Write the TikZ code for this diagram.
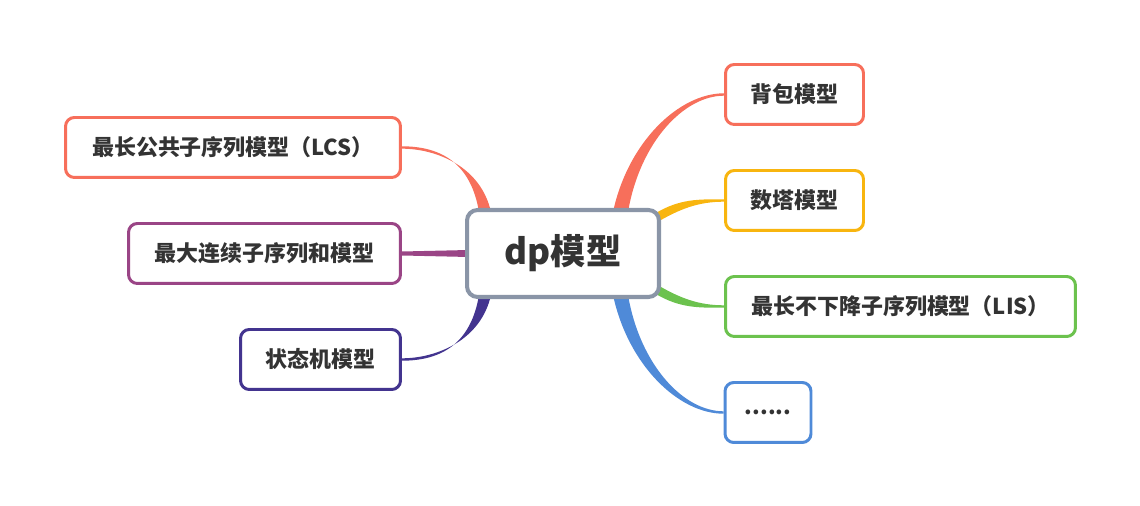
\documentclass[tikz,border=0pt]{standalone}
\usepackage{fontspec}
\setmainfont{Noto Sans CJK SC}
\usetikzlibrary{calc,backgrounds}
\definecolor{cred}{HTML}{F76F5B}
\definecolor{corange}{HTML}{F8B50F}
\definecolor{cgreen}{HTML}{6CC24E}
\definecolor{cblue}{HTML}{4F8AD8}
\definecolor{cpurple}{HTML}{9A4586}
\definecolor{cindigo}{HTML}{43348F}
\definecolor{cgray}{HTML}{8A95A7}
\definecolor{ctext}{HTML}{333333}
\tikzset{
  leaf/.style={draw,fill=white,line width=1.7pt,rounded corners=5pt,
    minimum height=1.2cm,text=ctext,font=\fontsize{12.5}{15}\selectfont\bfseries},
  root/.style={draw=cgray,fill=white,line width=2.3pt,rounded corners=6pt,
    minimum width=3.84cm,minimum height=1.74cm,text=ctext,
    font=\fontsize{20}{24}\selectfont\bfseries}
}
\begin{document}
\begin{tikzpicture}[x=0.02cm,y=-0.02cm]
    \useasboundingbox (0,0) rectangle (1140,506);
    % centre
    \node[root] (dp) at (563,253.5) {dp模型};
    % right side
    \node[leaf,draw=cred,minimum width=2.76cm] (bb) at (794.5,94.5) {背包模型};
    \node[leaf,draw=corange,minimum width=2.76cm] (st) at (794.5,200.5) {数塔模型};
    \node[leaf,draw=cgreen,minimum width=7cm] (lis) at (900.5,306.5) {最长不下降子序列模型（LIS）};
    \node[leaf,draw=cblue,minimum width=1.72cm] (etc) at (768,412.5) {......};
    % left side
    \node[leaf,draw=cred,minimum width=6.7cm] (lcs) at (233,147.5) {最长公共子序列模型（LCS）};
    \node[leaf,draw=cpurple,minimum width=5.44cm] (sum) at (264.5,253.5) {最大连续子序列和模型};
    \node[leaf,draw=cindigo,minimum width=3.2cm] (fsm) at (320.5,359.5) {状态机模型};
    % tapered branches
    \begin{scope}[on background layer]
        \fill[cred] ($(dp.north)+(50,4)$) .. controls +(15,-70) and +(-45,0) .. ($(bb.west)+(0,-1.2)$)
            -- ($(bb.west)+(0,1.2)$) .. controls +(-40,0) and +(12,-70) .. ($(dp.north)+(65,4)$) -- cycle;
        \fill[corange] ($(dp.east)+(-6,-40)$) .. controls +(25,-15) and +(-25,0) .. ($(st.west)+(0,-1.2)$)
            -- ($(st.west)+(0,1.2)$) .. controls +(-25,0) and +(25,-15) .. ($(dp.east)+(-6,-30)$) -- cycle;
        \fill[cgreen] ($(dp.east)+(-6,30)$) .. controls +(25,15) and +(-25,0) .. ($(lis.west)+(0,-1.2)$)
            -- ($(lis.west)+(0,1.2)$) .. controls +(-25,0) and +(25,15) .. ($(dp.east)+(-6,40)$) -- cycle;
        \fill[cblue] ($(dp.south)+(50,-4)$) .. controls +(15,70) and +(-45,0) .. ($(etc.west)+(0,1.2)$)
            -- ($(etc.west)+(0,-1.2)$) .. controls +(-40,0) and +(12,70) .. ($(dp.south)+(65,-4)$) -- cycle;
        \fill[cred] ($(dp.north)+(-72,4)$) .. controls +(-10,-45) and +(35,0) .. ($(lcs.east)+(0,1.2)$)
            -- ($(lcs.east)+(0,-1.2)$) .. controls +(40,0) and +(-8,-48) .. ($(dp.north)+(-84,4)$) -- cycle;
        \fill[cpurple] ($(dp.west)+(4,-3.5)$) -- ($(sum.east)+(0,-2)$) -- ($(sum.east)+(0,2)$)
            -- ($(dp.west)+(4,3.5)$) -- cycle;
        \fill[cindigo] ($(dp.south)+(-72,-4)$) .. controls +(-10,45) and +(35,0) .. ($(fsm.east)+(0,-1.2)$)
            -- ($(fsm.east)+(0,1.2)$) .. controls +(40,0) and +(-8,48) .. ($(dp.south)+(-84,-4)$) -- cycle;
    \end{scope}
\end{tikzpicture}
\end{document}
